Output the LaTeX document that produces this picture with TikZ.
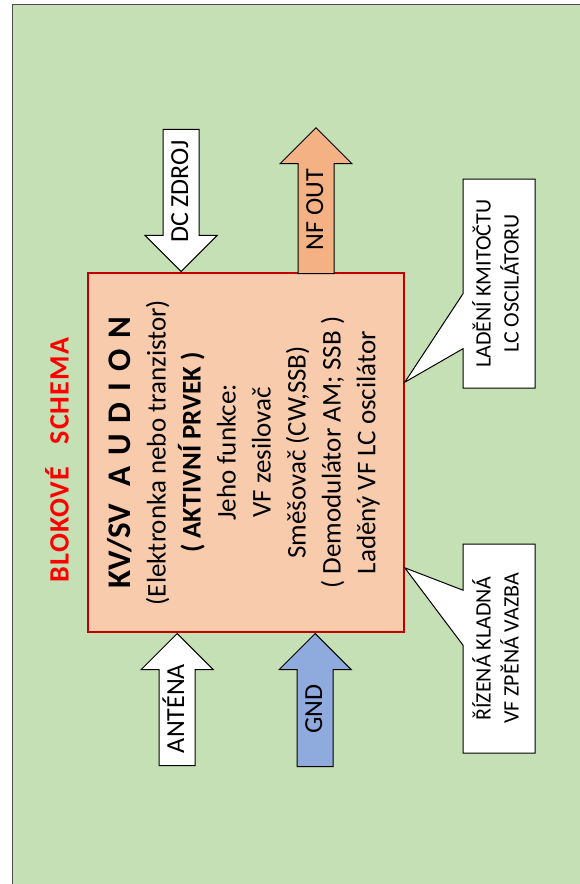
\documentclass[tikz,border=0pt]{standalone}
\usepackage{fontspec}
\setmainfont{Carlito}
\usepackage{tikz}
\usetikzlibrary{shapes.arrows,shapes.callouts,positioning}

\definecolor{bggreen}{HTML}{C5E0B4}
\definecolor{boxpeach}{HTML}{F8CBAD}
\definecolor{boxred}{HTML}{C00000}
\definecolor{outorange}{HTML}{F4B183}
\definecolor{gndblue}{HTML}{8FAADC}
\definecolor{titlered}{HTML}{FF0000}

\begin{document}
\begin{tikzpicture}[
      x=1pt, y=-1pt, line join=miter,
      font=\fontsize{24}{28}\selectfont,
      frame/.style={draw=black!70, line width=1pt, fill=bggreen},
      core/.style={draw=boxred, line width=1.6pt, fill=boxpeach, inner sep=0pt,
                   minimum width=316pt, minimum height=359pt},
      blockarrow/.style={single arrow, draw=black, line width=1pt, rotate=90,
                   single arrow head extend=18pt, single arrow tip angle=90,
                   font=\fontsize{26}{30}\selectfont,
                   text height=16pt, text depth=2pt, inner ysep=8.5pt,
                   inner xsep=3pt, anchor=tip},
      note/.style={rectangle callout, draw=black, line width=1pt, fill=white,
                   inner sep=0pt, minimum width=72pt, minimum height=209pt,
                   callout pointer width=55pt, font=\fontsize{22}{28}\selectfont},
      ttl/.style={font=\fontsize{28}{32}\selectfont\bfseries\addfontfeatures{LetterSpace=4},
                  text=titlered, rotate=90}]

    %% Geometry is in pixels of the 580x884 page, y growing downwards.
    \useasboundingbox (0,0) rectangle (580,884);
    \draw[frame] (12,4) rectangle (600,900);

    %% ---- the active element in the middle ----
    \node[core] (aud) at (246,452.5)
      {\rotatebox{90}{\fontsize{27}{35}\selectfont
       \begin{tabular}{@{}c@{}}
         {\fontsize{33}{35}\selectfont\bfseries KV/SV\hspace{17pt}A\hspace{11pt}U\hspace{11pt}D\hspace{11pt}I\hspace{11pt}O\hspace{11pt}N}\\
         (Elektronka nebo tranzistor)\\
         {\bfseries ( AKTIVNÍ PRVEK )}\\
         Jeho funkce:\\
         VF zesilovač\\
         Směšovač (CW,SSB)\\
         ( Demodulátor AM; SSB )\\
         Laděný VF LC oscilátor
       \end{tabular}}};
    \node[ttl] (ttl) at (57,460) {BLOKOVÉ\ \ \ SCHEMA};

    %% ---- supply and output on top, aerial and ground below ----
    \node[blockarrow, fill=white, shape border rotate=180, minimum height=142pt]
      (dc) at ([xshift=94pt]aud.north west) {DC ZDROJ};
    \node[blockarrow, fill=outorange, minimum height=146pt]
      (nf) at (316,127) {NF OUT};
    \node[blockarrow, fill=white, minimum height=132pt]
      (ant) at ([xshift=90pt]aud.south west) {ANTÉNA};
    \node[blockarrow, fill=gndblue, minimum height=133pt]
      (gnd) at ([xshift=228pt]aud.south west) {GND};

    %% ---- the two notes on the right ----
    \coordinate (tipL) at ([yshift=-110pt]aud.north east);
    \coordinate (tipR) at ([yshift=65pt]aud.south east);
    \node[note, callout absolute pointer={(tipL)}] (lad) at (499,283.5)
      {\rotatebox{90}{\begin{tabular}{@{}c@{}}LADĚNÍ KMITOČTU\\LC OSCILÁTORU\end{tabular}}};
    \node[note, callout absolute pointer={(tipR)}] (vaz) at (499,648.5)
      {\rotatebox{90}{\begin{tabular}{@{}c@{}}ŘÍZENÁ KLADNÁ\\VF ZPĚNÁ VAZBA\end{tabular}}};
\end{tikzpicture}
\end{document}
